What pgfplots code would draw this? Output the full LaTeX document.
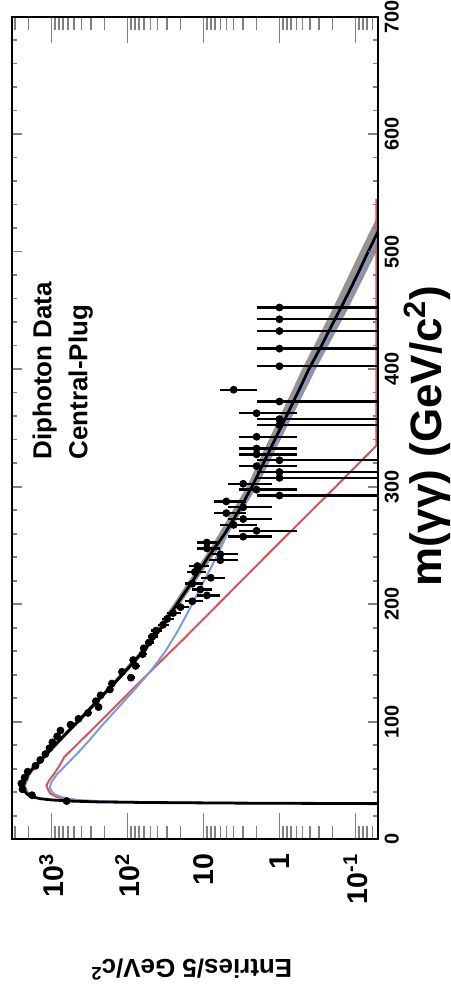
\documentclass[border=0pt]{standalone}
\usepackage{fontspec}
\setmainfont{Liberation Sans}
\usepackage{pgfplots}
\pgfplotsset{compat=1.18}
\usepackage{pgfplotstable}

\definecolor{fitred}{RGB}{215,85,85}
\definecolor{fitblue}{RGB}{125,155,225}

\pgfplotstableread{
m N ep em
32.5 630 25 25
37.5 1800 42 42
42.5 2400 49 49
47.5 2480 50 50
52.5 2250 47 47
57.5 2050 45 45
62.5 1620 40 40
67.5 1400 37 37
72.5 1200 35 35
77.5 1060 33 33
82.5 970 31 31
87.5 840 29 29
92.5 760 28 28
97.5 560 24 24
102.5 440 21 21
107.5 330 18 18
112.5 240 15.5 15.5
117.5 260 16 16
122.5 225 15 15
127.5 170 13 13
132.5 160 12.6 12.6
137.5 90 9.5 9.5
142.5 118 10.9 10.9
147.5 78 8.8 8.8
152.5 84 9.2 9.2
157.5 63 7.9 7.9
162.5 61 7.8 7.8
167.5 52 7.2 7.2
172.5 47 6.9 6.9
177.5 42 6.5 6.5
182.5 34 5.8 5.8
187.5 30 5.5 5.5
192.5 25 5 5
197.5 20 4.5 4.5
202.5 14 3.74 3.74
207.5 9 3 3
212.5 11 3.32 3.32
217.5 14 3.74 3.74
222.5 8 2.83 2.83
227.5 13 3.61 3.61
232.5 12 3.46 3.46
237.5 6 2.45 2.45
242.5 6 2.45 2.45
247.5 9 3 3
252.5 9 3 3
257.5 3 1.73 1.73
262.5 2 1.41 1.41
267.5 4 2 2
272.5 3 1.73 1.73
277.5 5 2.24 2.24
282.5 3 1.73 1.73
287.5 5 2.24 2.24
292.5 1 1 0.99
297.5 2 1.41 1.41
302.5 3 1.73 1.73
307.5 1 1 0.99
312.5 1 1 0.99
317.5 2 1.41 1.41
322.5 1 1 0.99
327.5 2 1.41 1.41
332.5 2 1.41 1.41
342.5 2 1.41 1.41
352.5 1 1 0.99
357.5 1 1 0.99
362.5 2 1.41 1.41
372.5 1 1 0.99
382.5 4 2 2
402.5 1 1 0.99
417.5 1 1 0.99
432.5 1 1 0.99
442.5 1 1 0.99
452.5 1 1 0.99
}\datatab

\pgfplotstableread{
m N
30.3 0.045
30.8 5
31.3 60
31.8 250
32.5 560
33.5 1000
34.5 1400
36 1750
38 2050
41 2250
45 2340
50 2240
55 2040
60 1780
65 1480
70 1260
75 1070
85 760
95 540
105 380
120 230
140 117
160 62
170 47
180 36
200 22.4
220 13.8
240 8.7
260 5.25
280 3.4
300 2.3
320 1.62
340 1.15
360 0.81
380 0.575
400 0.41
420 0.28
440 0.195
460 0.135
480 0.095
500 0.068
520 0.048
530 0.040
}\blacktab

\pgfplotstableread{
m N
33.5 1080
35 1630
38 2214
45 2527
55 2203
65 1598
80 972
100 486
130 177
160 67.6
200 24.9
250 7.71
300 2.69
350 1.164
400 0.504
450 0.204
500 0.087
530 0.0516
530 0.031
500 0.0531
450 0.129
400 0.333
350 0.808
300 1.97
250 5.93
200 20.2
160 56.9
130 152
100 417
80 833
65 1370
55 1889
45 2167
38 1898
35 1398
33.5 926
}\bandtab

\pgfplotstableread{
m N
30.3 0.045
30.8 3
31.3 30
32 160
33 390
34.5 600
35.7 716
38 900
41 1000
44 1050
48 1010
55 851
65 603
75 427
85 309
95 229
110 141
125 87
142 51
160 31.6
178 21.4
200 14.1
220 9.8
240 6.76
262 4.68
280 3.2
300 2.2
320 1.52
340 1.07
360 0.755
380 0.535
400 0.38
420 0.26
440 0.181
460 0.126
480 0.088
500 0.063
520 0.045
}\bluetab

\pgfplotstableread{
m N
30.3 0.045
30.8 3
31.3 32
32 170
33 420
34.5 680
36 850
39 1040
43 1120
46 1160
50 1070
56 912
62 794
67 716
70 676
80 471
100 229
120 112.7
142 51.3
170 18.5
200 6.4
250 1.09
300 0.182
335 0.053
545 0.053
}\redtab

\begin{document}
\begin{tikzpicture}
\begin{axis}[
  scale only axis,
  width=183.5pt, height=412pt,
  xmode=log, x dir=reverse,
  xmin=0.05, xmax=3300,
  ymin=0, ymax=700,
  xtick={0.1,1,10,100,1000},
  xticklabels={10\textsuperscript{-1},1,10,10\textsuperscript{2},10\textsuperscript{3}},
  minor xtick={0.06,0.07,0.08,0.09,0.2,0.3,0.4,0.5,0.6,0.7,0.8,0.9,2,3,4,5,6,7,8,9,20,30,40,50,60,70,80,90,200,300,400,500,600,700,800,900,2000,3000},
  ytick=\empty,
  tick align=inside,
  major tick length=13pt, minor tick length=6.5pt,
  xticklabel style={rotate=90, anchor=east, inner sep=0pt, font=\fontsize{14.3}{16}\selectfont\bfseries},
  xticklabel shift=7pt,
  xtick style={line width=0.8pt},
  axis line style={line width=1pt},
  clip mode=individual,
]
\addplot[fill=black!42, draw=none] table[x=N, y=m] {\bandtab};
\addplot[fitred, line width=1pt] table[x=N, y=m] {\redtab};
\addplot[fitblue, line width=1pt] table[x=N, y=m] {\bluetab};
\addplot[black, line width=1.4pt] table[x=N, y=m] {\blacktab};
\addplot[only marks, mark=*, mark size=1.75pt, black,
  error bars/.cd, x dir=both, x explicit, error mark=none,
  error bar style={line width=1.2pt}]
  table[x=N, y=m, x error plus=ep, x error minus=em] {\datatab};

\node[rotate=90, anchor=base west, inner sep=0pt, font=\fontsize{13}{15}\selectfont\bfseries] at (axis cs:1000,323) {Diphoton Data};
\node[rotate=90, anchor=base west, inner sep=0pt, font=\fontsize{13}{15}\selectfont\bfseries] at (axis cs:336,323) {Central-Plug};
\node[rotate=90, anchor=base, inner sep=0pt, font=\fontsize{22}{26}\selectfont\bfseries] at (axis cs:0.0075,343) {m(γγ) (GeV/c\textsuperscript{2})};
\node[rotate=180, anchor=base, inner sep=0pt, font=\fontsize{13}{15}\selectfont\bfseries] at (axis cs:14.4,-102) {Entries/5 GeV/c\textsuperscript{2}};
\end{axis}
\begin{axis}[
  scale only axis,
  width=183.5pt, height=412pt,
  xmin=0, xmax=1,
  ymin=0, ymax=700,
  xtick=\empty,
  ytick={0,100,200,300,400,500,600,700},
  yticklabels={0,100,200,300,400,500,600,700},
  minor ytick={0,20,...,700},
  yticklabel pos=right,
  tick align=inside,
  major tick length=5pt, minor tick length=2.5pt,
  yticklabel style={rotate=90, anchor=north, inner sep=0pt, font=\fontsize{10}{12}\selectfont\bfseries},
  yticklabel shift=3pt,
  ytick style={line width=0.8pt},
  axis line style={line width=1pt},
]
\end{axis}
\path[use as bounding box] ([xshift=-6pt,yshift=-78pt]current axis.south west) rectangle ([xshift=36pt,yshift=7.5pt]current axis.north east);
\end{tikzpicture}
\end{document}
